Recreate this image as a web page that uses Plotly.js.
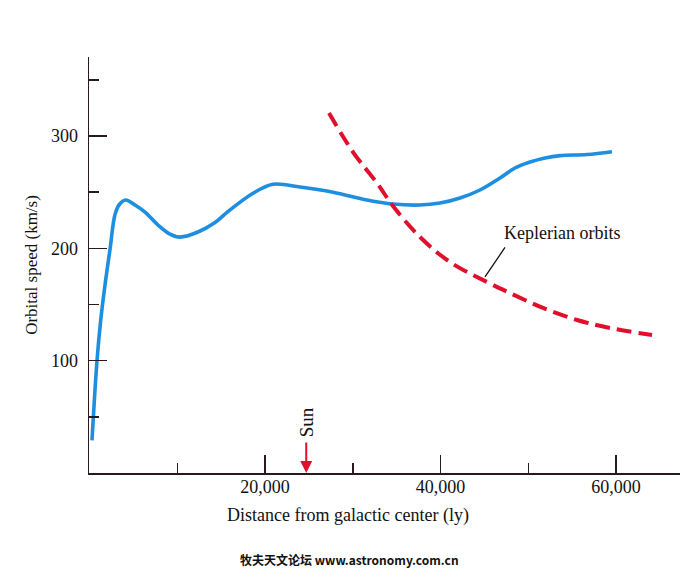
<!DOCTYPE html>
<html>
<head>
<meta charset="utf-8">
<script src="https://cdn.plot.ly/plotly-3.0.1.min.js"></script>
<style>html,body{margin:0;padding:0;background:#fff;}#chart{width:700px;height:573px;}</style>
</head>
<body>
<div id="chart"></div>
<script>
// Observed rotation curve (distance in ly, speed in km/s)
const observedDistance = [285, 855, 1276, 1846, 2336, 2906, 3400, 4125, 5185, 6325, 7806, 9174, 10313, 12365, 14302, 15670, 18632, 20912, 23989, 27749, 31624, 34587, 37664, 39943, 42222, 44501, 46781, 48490, 50199, 51908, 53618, 56695, 59544];
const observedSpeed    = [29, 100, 136, 172, 199, 230, 239, 243, 238.5, 232.3, 220.7, 212.7, 210, 214.5, 223, 232, 249, 257, 254.6, 250, 243, 239.4, 238.5, 240.3, 244.8, 251.9, 262.6, 271.5, 276.8, 280.4, 282.5, 283.5, 286];

// Keplerian orbits prediction
const keplerDistance = [27293, 30028, 32764, 34587, 37664, 41083, 45299, 47920, 51681, 55556, 59316, 64103];
const keplerSpeed    = [320.4, 285.7, 258.1, 237.7, 210.1, 187.8, 170, 160.2, 146.9, 136.2, 129.1, 122.8];

// Axis ticks
const yTickVals = [100, 200, 300];
const yTickText = ['100', '200', '300'];
const yMinorVals = [50, 150, 250, 350];
const xTickVals = [20000, 40000, 60000];
const xTickText = ['20,000', '40,000', '60,000'];
const xMinorVals = [10000, 30000, 50000];

const sunDistance = 24700;
const keplerLabelPoint = {x: 45071, y: 174.5};

const serif = 'Liberation Serif, Times New Roman, serif';
const axisColor = '#2a1a1e';

const traces = [
  {
    x: observedDistance, y: observedSpeed, type: 'scatter', mode: 'lines',
    line: {color: '#1E8EE0', width: 3.6, shape: 'spline', smoothing: 1},
    hoverinfo: 'skip'
  },
  {
    x: keplerDistance, y: keplerSpeed, type: 'scatter', mode: 'lines',
    line: {color: '#E0102C', width: 4, dash: '15px,7px', shape: 'spline', smoothing: 1},
    hoverinfo: 'skip'
  }
];

const layout = {
  width: 700, height: 573,
  margin: {l: 89, r: 20, t: 57, b: 100},
  paper_bgcolor: '#fff', plot_bgcolor: '#fff',
  showlegend: false,
  font: {family: serif, color: '#111'},
  xaxis: {
    range: [-57, 67293], showgrid: false, zeroline: false,
    showline: true, linecolor: axisColor, linewidth: 1.5,
    tickmode: 'array', tickvals: xTickVals, ticktext: xTickText,
    ticks: 'inside', ticklen: 18, tickwidth: 1.5, tickcolor: axisColor,
    minor: {tickvals: xMinorVals, ticks: 'inside', ticklen: 10, tickwidth: 1.5, tickcolor: axisColor},
    tickfont: {family: serif, size: 18, color: '#111'},
    ticklabelstandoff: -3,
    automargin: false
  },
  yaxis: {
    range: [0, 370.3], showgrid: false, zeroline: false,
    showline: true, linecolor: axisColor, linewidth: 1.5,
    tickmode: 'array', tickvals: yTickVals, ticktext: yTickText,
    ticks: 'inside', ticklen: 18, tickwidth: 1.5, tickcolor: axisColor,
    minor: {tickvals: yMinorVals, ticks: 'inside', ticklen: 10, tickwidth: 1.5, tickcolor: axisColor},
    tickfont: {family: serif, size: 18, color: '#111'},
    ticklabelstandoff: 6,
    title: {text: 'Orbital speed (km/s)', font: {family: serif, size: 17, color: '#111'}, standoff: 9},
    automargin: false
  },
  annotations: [
    {
      x: 0.438, y: -0.101, xref: 'paper', yref: 'paper',
      text: 'Distance from galactic center (ly)', showarrow: false,
      xanchor: 'center', yanchor: 'middle',
      font: {family: serif, size: 18, color: '#111'}
    },
    {
      x: 0.801, y: 0.578, xref: 'paper', yref: 'paper',
      text: 'Keplerian orbits', showarrow: false,
      xanchor: 'center', yanchor: 'middle',
      font: {family: serif, size: 18, color: '#111'}
    },
    {
      x: keplerLabelPoint.x, y: keplerLabelPoint.y, xref: 'x', yref: 'y',
      text: '', showarrow: true, arrowhead: 0, arrowwidth: 1.3, arrowcolor: '#111',
      ax: 21, ay: -31, standoff: 0
    },
    {
      x: sunDistance, y: 0, xref: 'x', yref: 'y',
      text: '', showarrow: true, arrowhead: 2, arrowsize: 1.2, arrowwidth: 2, arrowcolor: '#E0102C',
      ax: 0, ay: -32, standoff: 0
    },
    {
      x: sunDistance, y: 45.4, xref: 'x', yref: 'y',
      text: 'Sun', showarrow: false, textangle: -90,
      xanchor: 'center', yanchor: 'middle',
      font: {family: serif, size: 19, color: '#111'}
    },
    {
      x: 0.4416, y: -0.209, xref: 'paper', yref: 'paper',
      text: '<b>牧夫天文论坛 www.astronomy.com.cn</b>', showarrow: false,
      xanchor: 'center', yanchor: 'middle',
      font: {family: 'Noto Sans CJK SC, Liberation Sans, sans-serif', size: 12, color: '#111'}
    }
  ]
};

Plotly.newPlot('chart', traces, layout, {staticPlot: true, displayModeBar: false});
</script>
</body>
</html>
